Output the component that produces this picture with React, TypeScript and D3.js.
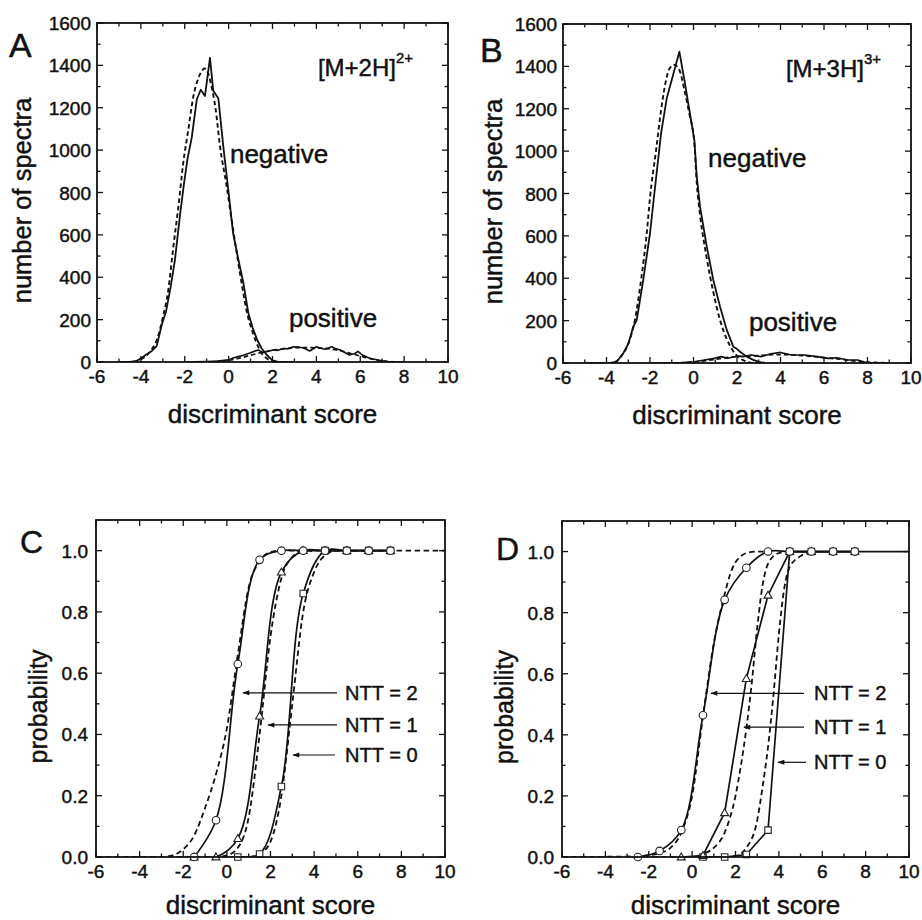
import React from 'react';
import * as d3 from 'd3';

const FONT = "'Liberation Sans', Arial, Helvetica, sans-serif";

// ---------- axis ticks ----------
const scoreMajor = [-6, -4, -2, 0, 2, 4, 6, 8, 10];
const scoreMinor = [-5, -3, -1, 1, 3, 5, 7, 9];
const countMajor = [0, 200, 400, 600, 800, 1000, 1200, 1400, 1600];
const countMinor = [100, 300, 500, 700, 900, 1100, 1300, 1500];
const probMajor = [0, 0.2, 0.4, 0.6, 0.8, 1.0];
const probMinor = [0.1, 0.3, 0.5, 0.7, 0.9];

// ---------- Panel A: [M+2H]2+ histograms ----------
const aNegObsX = [-5, -4.5, -4.2, -4.0, -3.75, -3.5, -3.28, -3.05, -2.85, -2.65, -2.45, -2.22, -2.05, -1.88, -1.68, -1.45, -1.27, -1.08, -0.85, -0.7, -0.47, -0.24, 0.0, 0.2, 0.45, 0.67, 0.9, 1.1, 1.3, 1.5, 1.75, 2.0, 2.3, 3.0];
const aNegObsY = [0, 0, 5, 17, 35, 52, 75, 175, 240, 350, 480, 690, 830, 955, 1060, 1240, 1285, 1255, 1435, 1280, 1245, 1015, 800, 610, 480, 375, 230, 160, 105, 65, 32, 8, 0, 0];
const aNegFitX = [-5, -4.2, -4.0, -3.75, -3.5, -3.25, -3.0, -2.75, -2.52, -2.29, -2.07, -1.84, -1.61, -1.38, -1.08, -0.93, -0.78, -0.6, -0.39, -0.09, 0.14, 0.37, 0.67, 0.83, 1.1, 1.4, 1.7, 2.0, 2.3, 3.0];
const aNegFitY = [0, 0, 12, 30, 60, 110, 210, 340, 544, 733, 938, 1095, 1252, 1339, 1385, 1362, 1300, 1200, 1016, 830, 670, 514, 325, 236, 140, 60, 20, 5, 0, 0];
const aPosObsX = [-2, -1, -0.5, 0, 0.2, 0.6, 0.97, 1.15, 1.35, 1.55, 1.75, 2.03, 2.25, 2.49, 2.7, 2.95, 3.2, 3.4, 3.7, 4.0, 4.2, 4.4, 4.7, 4.9, 5.1, 5.3, 5.5, 5.75, 5.9, 6.1, 6.4, 6.85, 7.3, 7.8];
const aPosObsY = [0, 2, 4, 10, 19, 30, 42, 50, 57, 45, 50, 57, 55, 64, 62, 72, 70, 67, 52, 72, 65, 60, 72, 62, 57, 45, 33, 40, 50, 33, 19, 8, 1, 0];
const aPosFitX = [-1, 0, 0.5, 1, 1.5, 2, 2.5, 3, 3.5, 4, 4.5, 5, 5.5, 6, 6.5, 7, 7.5, 8];
const aPosFitY = [0, 8, 18, 32, 45, 55, 62, 67, 68, 67, 63, 55, 42, 28, 14, 5, 1, 0];

// ---------- Panel B: [M+3H]3+ histograms ----------
const bNegObsX = [-5, -3.8, -3.53, -3.23, -3.0, -2.77, -2.61, -2.31, -2.0, -1.8, -1.49, -1.23, -0.65, -0.42, -0.2, 0.04, 0.15, 0.3, 0.61, 0.91, 1.22, 1.53, 1.83, 1.95, 2.14, 2.45, 2.75, 3.0, 3.3];
const bNegObsY = [0, 0, 6, 46, 90, 171, 203, 392, 612, 800, 1085, 1249, 1469, 1336, 1200, 1052, 880, 738, 549, 392, 266, 156, 77, 70, 53, 30, 15, 5, 0];
const bNegFitX = [-5, -3.9, -3.6, -3.3, -3.0, -2.7, -2.4, -2.15, -2.0, -1.72, -1.49, -1.26, -1.1, -0.88, -0.65, -0.42, -0.2, 0.04, 0.15, 0.3, 0.6, 0.9, 1.2, 1.5, 1.8, 2.1, 2.4, 2.7, 3.3];
const bNegFitY = [0, 0, 5, 35, 90, 200, 400, 612, 780, 1005, 1194, 1336, 1390, 1407, 1383, 1289, 1180, 1037, 850, 700, 500, 340, 210, 120, 60, 25, 8, 0, 0];
const bPosObsX = [-2, -0.5, 0.04, 0.5, 0.96, 1.27, 1.57, 2.03, 2.3, 2.65, 3.1, 3.56, 4.0, 4.5, 5.1, 5.7, 6.2, 6.6, 7.1, 7.55, 7.9, 8.2, 9];
const bPosObsY = [0, 2, 6, 14, 22, 30, 22, 33, 30, 38, 30, 44, 50, 38, 38, 30, 22, 25, 14, 14, 3, 0, 0];
const bPosFitX = [-1, 0, 0.5, 1, 1.5, 2, 3, 4, 5, 6, 7, 7.5, 8, 8.5, 9];
const bPosFitY = [0, 5, 10, 17, 25, 30, 35, 40, 35, 25, 15, 8, 4, 2, 0];

// ---------- Panel C: probabilities, [M+2H]2+ ----------
const cNtt2X = [-1.5, -0.5, 0.5, 1.5, 2.5, 3.5, 4.5, 5.5, 6.5, 7.5];
const cNtt2Y = [0, 0.12, 0.63, 0.97, 1, 1, 1, 1, 1, 1];
const cNtt1X = [-1.5, -0.5, 0.5, 1.5, 2.5, 3.5, 4.5, 5.5, 6.5, 7.5];
const cNtt1Y = [0, 0, 0.06, 0.46, 0.93, 1, 1, 1, 1, 1];
const cNtt0X = [0.5, 1.5, 2.5, 3.5, 4.5, 5.5, 6.5, 7.5];
const cNtt0Y = [0, 0.01, 0.23, 0.86, 1, 1, 1, 1];
const cFit2X = [-6, -3, -2.5, -2, -1.5, -1, -0.5, 0, 0.5, 1, 1.5, 2, 2.5, 10];
const cFit2Y = [0, 0, 0.005, 0.025, 0.07, 0.16, 0.27, 0.42, 0.66, 0.88, 0.965, 0.995, 1, 1];
const cFit1X = [-6, -0.5, 0, 0.5, 1, 1.5, 2, 2.5, 3, 3.5, 4];
const cFit1Y = [0, 0, 0.005, 0.03, 0.13, 0.4, 0.72, 0.91, 0.98, 1, 1];
const cFit0X = [-6, 1, 1.5, 2, 2.5, 3, 3.5, 4, 4.5, 5, 5.5];
const cFit0Y = [0, 0, 0.01, 0.05, 0.2, 0.5, 0.8, 0.93, 0.985, 1, 1];

// ---------- Panel D: probabilities, [M+3H]3+ ----------
const dNtt2X = [-2.5, -1.5, -0.5, 0.5, 1.5, 2.5, 3.5, 4.5, 5.5, 6.5, 7.5];
const dNtt2Y = [0, 0.02, 0.088, 0.464, 0.842, 0.947, 1, 1, 1, 1, 1];
const dNtt2TailX = [7.5, 10];
const dNtt2TailY = [1, 1];
const dNtt1X = [-0.5, 0.5, 1.5, 2.5, 3.5, 4.5, 5.5, 6.5, 7.5];
const dNtt1Y = [0, 0.005, 0.145, 0.584, 0.857, 1, 1, 1, 1];
const dNtt0X = [0.5, 1.5, 2.5, 3.5, 4.5, 5.5, 6.5, 7.5];
const dNtt0Y = [0, 0, 0.008, 0.088, 1, 1, 1, 1];
const dFit2X = [-6, -2.5, -2, -1.5, -1, -0.5, 0, 0.5, 1, 1.5, 1.75, 2, 2.25, 2.5, 3, 3.5];
const dFit2Y = [0, 0.002, 0.006, 0.012, 0.03, 0.08, 0.2, 0.46, 0.7, 0.86, 0.925, 0.965, 0.985, 0.995, 1, 1];
const dFit1X = [-6, 0, 0.5, 1, 1.5, 2, 2.25, 2.5, 2.75, 3, 3.25, 3.5, 4, 4.5];
const dFit1Y = [0, 0, 0.01, 0.03, 0.08, 0.2, 0.3, 0.42, 0.57, 0.75, 0.89, 0.96, 0.995, 1];
const dFit0X = [-6, 1.5, 2, 2.5, 3, 3.25, 3.5, 3.75, 4, 4.25, 4.5, 5, 5.5];
const dFit0Y = [0, 0, 0.003, 0.03, 0.12, 0.23, 0.36, 0.53, 0.73, 0.88, 0.95, 0.985, 1];

// ---------- annotations ----------
const nttLabels = ['NTT = 2', 'NTT = 1', 'NTT = 0'];
const cArrowFrom = [5.05, 5.05, 4.96];
const cArrowTo = [0.74, 1.89, 3.03];
const cArrowP = [0.536, 0.431, 0.333];
const cLabelX = 5.42;
const dArrowFrom = [5.16, 5.16, 5.25];
const dArrowTo = [0.87, 2.39, 3.96];
const dArrowP = [0.536, 0.425, 0.31];
const dLabelX = 5.62;

type Pt = [number, number];
const zip = (xs: number[], ys: number[]): Pt[] => xs.map((x, i) => [x, ys[i]]);

type Frame = { x0: number; x1: number; y0: number; y1: number };

const frameA: Frame = { x0: 97, x1: 448, y0: 23, y1: 362 };
const frameB: Frame = { x0: 563, x1: 911, y0: 24, y1: 363 };
const frameC: Frame = { x0: 96, x1: 445, y0: 520, y1: 857 };
const frameD: Frame = { x0: 562, x1: 909, y0: 521, y1: 857 };

const INK = '#111';
const TXT = { fontFamily: FONT, fill: INK, stroke: INK, strokeWidth: 0.45 } as any;

function Axes({ f, x, y, yMajor, yMinor, yFmt, labelGap }: any) {
  const maj = 6;
  const min = 3.5;
  const els: any[] = [];
  scoreMajor.forEach((v, i) => {
    const px = x(v);
    els.push(<line key={'xb' + i} x1={px} x2={px} y1={f.y1} y2={f.y1 - maj} />);
    els.push(<line key={'xt' + i} x1={px} x2={px} y1={f.y0} y2={f.y0 + maj} />);
  });
  scoreMinor.forEach((v, i) => {
    const px = x(v);
    els.push(<line key={'xbm' + i} x1={px} x2={px} y1={f.y1} y2={f.y1 - min} />);
    els.push(<line key={'xtm' + i} x1={px} x2={px} y1={f.y0} y2={f.y0 + min} />);
  });
  yMajor.forEach((v: number, i: number) => {
    const py = y(v);
    els.push(<line key={'yl' + i} x1={f.x0} x2={f.x0 + maj} y1={py} y2={py} />);
    els.push(<line key={'yr' + i} x1={f.x1} x2={f.x1 - maj} y1={py} y2={py} />);
  });
  yMinor.forEach((v: number, i: number) => {
    const py = y(v);
    els.push(<line key={'ylm' + i} x1={f.x0} x2={f.x0 + min} y1={py} y2={py} />);
    els.push(<line key={'yrm' + i} x1={f.x1} x2={f.x1 - min} y1={py} y2={py} />);
  });
  return (
    <g>
      <g stroke={INK} strokeWidth={1.3}>{els}</g>
      <rect x={f.x0} y={f.y0} width={f.x1 - f.x0} height={f.y1 - f.y0} fill="none" stroke={INK} strokeWidth={1.8} />
      <g {...TXT} fontSize={19}>
        {scoreMajor.map((v, i) => (
          <text key={'xl' + i} x={x(v)} y={f.y1 + 21} textAnchor="middle">{v}</text>
        ))}
        {yMajor.map((v: number, i: number) => (
          <text key={'yll' + i} x={f.x0 - labelGap} y={y(v) + 7} textAnchor="end">{yFmt(v)}</text>
        ))}
      </g>
    </g>
  );
}

function HistPanel({ id, f, negObs, negFit, posObs, posFit, letter, letterPos, ion, charge, negPos, posPos, ionPos, yTitleX }: any) {
  const x = d3.scaleLinear().domain([-6, 10]).range([f.x0, f.x1]);
  const y = d3.scaleLinear().domain([0, 1600]).range([f.y1, f.y0]);
  const line = d3.line<Pt>().x(d => x(d[0])).y(d => y(d[1]));
  const smooth = d3.line<Pt>().x(d => x(d[0])).y(d => y(d[1])).curve(d3.curveMonotoneX);
  return (
    <g>
      <defs>
        <clipPath id={'clip' + id}>
          <rect x={f.x0} y={f.y0} width={f.x1 - f.x0} height={f.y1 - f.y0} />
        </clipPath>
      </defs>
      <g clipPath={`url(#clip${id})`} fill="none" stroke={INK}>
        <path d={smooth(negFit) || ''} strokeWidth={1.9} strokeDasharray="4.5,3" />
        <path d={smooth(posFit) || ''} strokeWidth={1.7} strokeDasharray="4.5,3" />
        <path d={line(negObs) || ''} strokeWidth={1.8} strokeLinejoin="round" />
        <path d={line(posObs) || ''} strokeWidth={1.6} strokeLinejoin="round" />
      </g>
      <Axes f={f} x={x} y={y} yMajor={countMajor} yMinor={countMinor} yFmt={(v: number) => String(v)} labelGap={6} />
      <g {...TXT}>
        <text x={letterPos[0]} y={letterPos[1]} fontSize={34}>{letter}</text>
        <text x={x(ionPos[0])} y={y(ionPos[1])} fontSize={24}>
          {ion}
          <tspan dy={-13} fontSize={15}>{charge}</tspan>
        </text>
        <text x={x(negPos[0])} y={y(negPos[1])} fontSize={26}>negative</text>
        <text x={x(posPos[0])} y={y(posPos[1])} fontSize={26}>positive</text>
        <text x={(f.x0 + f.x1) / 2} y={f.y1 + 61} fontSize={26} textAnchor="middle">discriminant score</text>
        <text transform={`translate(${yTitleX},${(f.y0 + f.y1) / 2 + 8}) rotate(-90)`} fontSize={25.5} textAnchor="middle">number of spectra</text>
      </g>
    </g>
  );
}

function Markers({ pts, x, y, kind }: any) {
  const sym = kind === 'tri' ? d3.symbol().type(d3.symbolTriangle).size(28)() : kind === 'sq' ? d3.symbol().type(d3.symbolSquare).size(42)() : null;
  return (
    <g fill="#fff" stroke="#222" strokeWidth={1.1}>
      {pts.map((p: Pt, i: number) =>
        sym ? (
          <path key={i} d={sym || ''} transform={`translate(${x(p[0])},${y(p[1]) + (kind === 'tri' ? 0.6 : 0)})`} />
        ) : (
          <circle key={i} cx={x(p[0])} cy={y(p[1])} r={3.8} />
        )
      )}
    </g>
  );
}

function ProbPanel({ id, f, s2, s1, s0, curve2, curve1, curve0, fits, tail, letter, letterPos, arrowFrom, arrowTo, arrowP, labelX, yTitleX }: any) {
  const x = d3.scaleLinear().domain([-6, 10]).range([f.x0, f.x1]);
  const y = d3.scaleLinear().domain([0, 1.1]).range([f.y1, f.y0]);
  const mk = (c: any) => d3.line<Pt>().x(d => x(d[0])).y(d => y(d[1])).curve(c);
  const fitLine = mk(d3.curveMonotoneX);
  return (
    <g>
      <defs>
        <clipPath id={'clip' + id}>
          <rect x={f.x0} y={f.y0} width={f.x1 - f.x0} height={f.y1 - f.y0} />
        </clipPath>
        <marker id={'arr' + id} viewBox="0 0 10 10" refX={9} refY={5} markerWidth={9} markerHeight={7} orient="auto" markerUnits="userSpaceOnUse">
          <path d="M0,1.5 L10,5 L0,8.5 Z" fill={INK} />
        </marker>
      </defs>
      <g clipPath={`url(#clip${id})`} fill="none" stroke={INK}>
        {fits.map((fp: Pt[], i: number) => (
          <path key={i} d={fitLine(fp) || ''} strokeWidth={1.8} strokeDasharray="5.5,3.5" />
        ))}
        {tail ? <path d={mk(d3.curveLinear)(tail) || ''} strokeWidth={1.7} /> : null}
        <path d={mk(curve0)(s0) || ''} strokeWidth={1.7} />
        <path d={mk(curve1)(s1) || ''} strokeWidth={1.7} />
        <path d={mk(curve2)(s2) || ''} strokeWidth={1.7} />
      </g>
      <Markers pts={s0} x={x} y={y} kind="sq" />
      <Markers pts={s1} x={x} y={y} kind="tri" />
      <Markers pts={s2} x={x} y={y} kind="circ" />
      <Axes f={f} x={x} y={y} yMajor={probMajor} yMinor={probMinor} yFmt={(v: number) => v.toFixed(1)} labelGap={8} />
      <g stroke={INK} strokeWidth={1.2}>
        {nttLabels.map((_, i) => (
          <line key={i} x1={x(arrowFrom[i])} x2={x(arrowTo[i])} y1={y(arrowP[i])} y2={y(arrowP[i])} markerEnd={`url(#arr${id})`} />
        ))}
      </g>
      <g {...TXT}>
        {nttLabels.map((t, i) => (
          <text key={i} x={x(labelX)} y={y(arrowP[i]) + 7} fontSize={20}>{t}</text>
        ))}
        <text x={letterPos[0]} y={letterPos[1]} fontSize={32}>{letter}</text>
        <text x={(f.x0 + f.x1) / 2} y={f.y1 + 57} fontSize={26} textAnchor="middle">discriminant score</text>
        <text transform={`translate(${yTitleX},${(f.y0 + f.y1) / 2 + 18}) rotate(-90)`} fontSize={25} textAnchor="middle">probability</text>
      </g>
    </g>
  );
}

export default function App() {
  const cr = d3.curveCatmullRom.alpha(0.5);
  return (
    <svg width={922} height={920} viewBox="0 0 922 920" style={{ position: 'absolute', left: 0, top: 0, background: '#fff' }}>
      <rect x={0} y={0} width={922} height={920} fill="#fff" />
      <HistPanel
        id="A" f={frameA}
        negObs={zip(aNegObsX, aNegObsY)} negFit={zip(aNegFitX, aNegFitY)}
        posObs={zip(aPosObsX, aPosObsY)} posFit={zip(aPosFitX, aPosFitY)}
        letter="A" letterPos={[9, 57]} ion="[M+2H]" charge="2+"
        ionPos={[4.07, 1350]} negPos={[0.06, 939]} posPos={[2.75, 165]} yTitleX={31}
      />
      <HistPanel
        id="B" f={frameB}
        negObs={zip(bNegObsX, bNegObsY)} negFit={zip(bNegFitX, bNegFitY)}
        posObs={zip(bPosObsX, bPosObsY)} posFit={zip(bPosFitX, bPosFitY)}
        letter="B" letterPos={[480, 62]} ion="[M+3H]" charge="3+"
        ionPos={[4.25, 1350]} negPos={[0.67, 925]} posPos={[2.55, 151]} yTitleX={502}
      />
      <ProbPanel
        id="C" f={frameC}
        s2={zip(cNtt2X, cNtt2Y)} s1={zip(cNtt1X, cNtt1Y)} s0={zip(cNtt0X, cNtt0Y)}
        curve2={cr} curve1={cr} curve0={cr}
        fits={[zip(cFit2X, cFit2Y), zip(cFit1X, cFit1Y), zip(cFit0X, cFit0Y)]}
        tail={null}
        letter="C" letterPos={[20, 553]}
        arrowFrom={cArrowFrom} arrowTo={cArrowTo} arrowP={cArrowP} labelX={cLabelX} yTitleX={47}
      />
      <ProbPanel
        id="D" f={frameD}
        s2={zip(dNtt2X, dNtt2Y)} s1={zip(dNtt1X, dNtt1Y)} s0={zip(dNtt0X, dNtt0Y)}
        curve2={cr} curve1={d3.curveLinear} curve0={d3.curveLinear}
        fits={[zip(dFit2X, dFit2Y), zip(dFit1X, dFit1Y), zip(dFit0X, dFit0Y)]}
        tail={zip(dNtt2TailX, dNtt2TailY)}
        letter="D" letterPos={[496, 560]}
        arrowFrom={dArrowFrom} arrowTo={dArrowTo} arrowP={dArrowP} labelX={dLabelX} yTitleX={513}
      />
    </svg>
  );
}
